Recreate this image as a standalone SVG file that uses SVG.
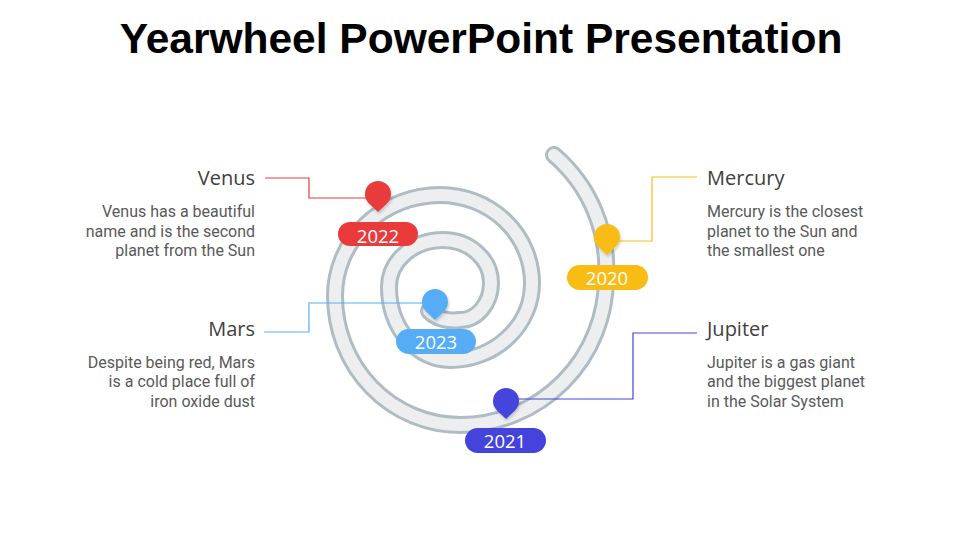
<svg xmlns="http://www.w3.org/2000/svg" width="960" height="540" viewBox="0 0 960 540">
<defs>
<style>
.title{font-family:"Liberation Sans",Arial,sans-serif;font-weight:bold;font-size:42.5px;fill:#000;}
.head{font-family:"Open Sans","Noto Sans",sans-serif;font-size:20px;fill:#404040;}
.desc{font-family:Roboto,"Liberation Sans",sans-serif;font-size:16px;fill:#595959;}
.yr{font-family:"Open Sans","Noto Sans",sans-serif;font-size:18.5px;fill:#fff;text-anchor:middle;}
.conn{fill:none;stroke-width:1.2;}
.r{text-anchor:end;}
</style>
<path id="pin" d="M0,18 L-9.2,9.2 A13,13 0 1 1 9.2,9.2 Z"/>
<path id="sp" d="M554,155 A150,150 0 0 1 606,278 A146,147 0 0 1 460,425 A125,129 0 0 1 335,296 A105,101 0 0 1 440,195 A92,88 0 0 1 532,283 A82,77 0 0 1 450,360 A61,73 0 0 1 389,287 A54,47 0 0 1 443,240 A48,43 0 0 1 491,283 A31,37 0 0 1 460,320 A30,22 0 0 1 429,311"/>
<filter id="sh" x="-50%" y="-50%" width="200%" height="200%">
<feDropShadow dx="1" dy="2" stdDeviation="1.5" flood-color="#000" flood-opacity="0.2"/>
</filter>
</defs>
<rect width="960" height="540" fill="#fff"/>
<text class="title" x="481" y="53" text-anchor="middle">Yearwheel PowerPoint Presentation</text>

<g id="spiral" fill="none" stroke-linecap="round" stroke-linejoin="round">
<use href="#sp" stroke="#AEBCC4" stroke-width="18"/>
<use href="#sp" stroke="#EDEEEF" stroke-width="12"/>
</g>

<g id="connectors">
<polyline class="conn" stroke="#E93B3B" points="265,178 309,178 309,198 370,198"/>
<polyline class="conn" stroke="#F9BC15" points="697,177 652,177 652,241 615,241"/>
<polyline class="conn" stroke="#56ADF5" points="264,332 309,332 309,303 428,303"/>
<polyline class="conn" stroke="#4444DD" points="697,333 633,333 633,399 512,399"/>
</g>

<g id="venus">
<use href="#pin" x="378" y="194" fill="#E93B3B" filter="url(#sh)"/>
<rect x="338" y="222" width="80" height="24" rx="12" fill="#E93B3B"/>
<text class="yr" x="378" y="242.5">2022</text>
<text class="head r" x="255" y="185">Venus</text>
<text class="desc r" x="255" y="217">Venus has a beautiful</text>
<text class="desc r" x="255" y="237">name and is the second</text>
<text class="desc r" x="255" y="256">planet from the Sun</text>
</g>

<g id="mercury">
<use href="#pin" x="607" y="237" fill="#F9BC15" filter="url(#sh)"/>
<rect x="567" y="265" width="81" height="25" rx="12.5" fill="#F9BC15"/>
<text class="yr" x="607" y="284.5">2020</text>
<text class="head" x="707" y="185">Mercury</text>
<text class="desc" x="707" y="217">Mercury is the closest</text>
<text class="desc" x="707" y="237">planet to the Sun and</text>
<text class="desc" x="707" y="256">the smallest one</text>
</g>

<g id="mars">
<use href="#pin" x="435" y="302" fill="#56ADF5" filter="url(#sh)"/>
<rect x="396" y="329" width="80" height="25" rx="12.5" fill="#56ADF5"/>
<text class="yr" x="436" y="348.5">2023</text>
<text class="head r" x="255" y="336">Mars</text>
<text class="desc r" x="255" y="368">Despite being red, Mars</text>
<text class="desc r" x="255" y="387">is a cold place full of</text>
<text class="desc r" x="255" y="407">iron oxide dust</text>
</g>

<g id="jupiter">
<use href="#pin" x="506" y="401" fill="#4444DD" filter="url(#sh)"/>
<rect x="465" y="428" width="81" height="25" rx="12.5" fill="#4444DD"/>
<text class="yr" x="505" y="447.5">2021</text>
<text class="head" x="707" y="336">Jupiter</text>
<text class="desc" x="707" y="368">Jupiter is a gas giant</text>
<text class="desc" x="707" y="387">and the biggest planet</text>
<text class="desc" x="707" y="407">in the Solar System</text>
</g>
</svg>
